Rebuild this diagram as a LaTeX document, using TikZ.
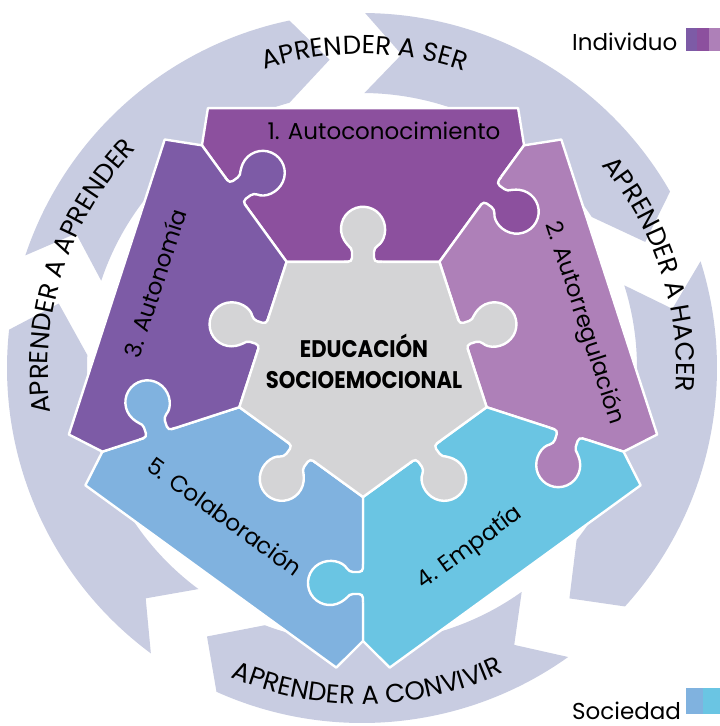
\documentclass[tikz,border=0pt]{standalone}
\usepackage{fontspec}
\usetikzlibrary{calc,decorations.text}
\newfontfamily\pop{Poppins}
\newcommand{\ringfont}{\pop\fontsize{26}{26}\selectfont}
\definecolor{ringc}{HTML}{C8CCE1}
\definecolor{pA}{HTML}{8C509E}
\definecolor{pB}{HTML}{AE80B8}
\definecolor{pC}{HTML}{7D5BA6}
\definecolor{pD}{HTML}{6AC5E3}
\definecolor{pE}{HTML}{80B2DF}
\definecolor{greyc}{HTML}{D4D4D6}
\tikzset{
  piece/.style={draw=white, line width=2.4pt, line join=round},
  lbl/.style={font=\pop\fontsize{23}{23}\selectfont, text=black, inner sep=0pt},
  ctr/.style={font=\pop\bfseries\fontsize{24}{24}\selectfont, text=black, inner sep=0pt},
  ringtext/.style={decorate, decoration={text along path, text align=center, text={|\ringfont|#1}}},
}
\newcommand{\pzknob}[3]{%
  \pgfmathsetmacro{\kpa}{#2+150}%
  \pgfmathsetmacro{\kpb}{#2-150}%
  \pgfmathsetmacro{\ku}{#2-90}%
  \coordinate (kM) at (#1);
  \fill[#3, rounded corners=4pt] ($(kM)+(\ku:-19)+(#2:-4)$) -- ($(kM)+(\ku:-19)$) -- ($(kM)+(\ku:-11)$) -- ($(kM)+(\ku:-11)+(#2:14)$)
     arc[start angle=\kpa, end angle=\kpb, radius=22] -- ($(kM)+(\ku:11)$) -- ($(kM)+(\ku:19)$) -- ($(kM)+(\ku:19)+(#2:-4)$) -- cycle;
  \draw[white, line width=2.4pt, rounded corners=4pt] ($(kM)+(\ku:-19)$) -- ($(kM)+(\ku:-11)$) -- ($(kM)+(\ku:-11)+(#2:14)$)
     arc[start angle=\kpa, end angle=\kpb, radius=22] -- ($(kM)+(\ku:11)$) -- ($(kM)+(\ku:19)$);
}
\begin{document}
\begin{tikzpicture}[x=1pt,y=-1pt]
\useasboundingbox (0,0) rectangle (720,726);
\fill[white] (0,0) rectangle (720,726);
% ring of arrows
\coordinate (C) at (362,368);
\foreach \k in {0,...,4}{
  \pgfmathsetmacro{\ta}{-89.5+72*\k}
  \pgfmathsetmacro{\om}{\ta+59.7}
  \pgfmathsetmacro{\tp}{\om+5.8}
  \pgfmathsetmacro{\ic}{\om-3.5}
  \pgfmathsetmacro{\nt}{\ta+6.7}
  \fill[ringc] ($(C)+(\ta:355)$) arc[start angle=\ta, end angle=\om, radius=355]
     -- ($(C)+(\tp:310)$) -- ($(C)+(\ic:275)$)
     arc[start angle=\ic, end angle=\ta, radius=275]
     -- ($(C)+(\nt:316)$) -- cycle;
}
% ring labels
\path[ringtext={APRENDER A SER}] ($(C)+(-129.5:314)$) arc[start angle=-129.5, end angle=-49.5, radius=314];
\path[ringtext={APRENDER A HACER}] ($(C)+(-58:314)$) arc[start angle=-58, end angle=22, radius=314];
\path[ringtext={APRENDER A APRENDER}] ($(C)+(-207:314)$) arc[start angle=-207, end angle=-117, radius=314];
\path[ringtext={APRENDER A CONVIVIR}] ($(C)+(139:336)$) arc[start angle=139, end angle=39, radius=336];
% puzzle geometry
\coordinate (G) at (363,367);
\foreach \i/\a in {1/-126,2/-54,3/18,4/90,5/162}{
  \coordinate (V\i) at ($(G)+(\a:130)$);
  \coordinate (D\i) at ($(G)+(\a:274)$);
  \coordinate (W\i) at ($(G)+(\a:320)$);
}
\path[piece, fill=pA] (V1) -- (D1) -- ($(W1)!33pt!(W2)$) -- ($(W2)!33pt!(W1)$) -- (D2) -- (V2) -- cycle;
\path[piece, fill=pB] (V2) -- (D2) -- ($(W2)!33pt!(W3)$) -- ($(W3)!33pt!(W2)$) -- (D3) -- (V3) -- cycle;
\path[piece, fill=pD] (V3) -- (D3) -- ($(W3)!33pt!(W4)$) -- ($(W4)!33pt!(W3)$) -- (D4) -- (V4) -- cycle;
\path[piece, fill=pE] (V4) -- (D4) -- ($(W4)!33pt!(W5)$) -- ($(W5)!33pt!(W4)$) -- (D5) -- (V5) -- cycle;
\path[piece, fill=pC] (V5) -- (D5) -- ($(W5)!33pt!(W1)$) -- ($(W1)!33pt!(W5)$) -- (D1) -- (V1) -- cycle;
\path[piece, fill=greyc] (V1) -- (V2) -- (V3) -- (V4) -- (V5) -- cycle;
% knobs
\pzknob{$(G)+(-126:216)$}{-36}{pC}
\pzknob{$(G)+(-54:216)$}{36}{pA}
\pzknob{$(G)+(18:216)$}{108}{pB}
\pzknob{$(G)+(90:216)$}{180}{pD}
\pzknob{$(G)+(162:216)$}{252}{pE}
\pzknob{$(G)+(-90:105.17)$}{-90}{greyc}
\pzknob{$(G)+(-18:105.17)$}{-18}{greyc}
\pzknob{$(G)+(54:105.17)$}{54}{greyc}
\pzknob{$(G)+(126:105.17)$}{126}{greyc}
\pzknob{$(G)+(198:105.17)$}{198}{greyc}
% piece labels
\node[lbl] (t1) at (384,131) {1. Autoconocimiento};
\node[lbl, rotate=-72] (t2) at (584,323) {2. Autorregulación};
\node[lbl, rotate=72] (t3) at (155,283) {3. Autonomía};
\node[lbl, rotate=36] (t4) at (470,548) {4. Empatía};
\node[lbl, rotate=-36] (t5) at (225,516) {5. Colaboración};
\node[ctr, anchor=base] (e1) at (364,357) {\scalebox{0.88}[1]{EDUCACIÓN}};
\node[ctr, anchor=base] (e2) at (364,388) {\scalebox{0.88}[1]{SOCIOEMOCIONAL}};
% legend
\node[lbl, anchor=base west] (ind) at (572,50) {Individuo};
\fill[pC] (686,28) rectangle (697,51);
\fill[pA] (697,28) rectangle (708.5,51);
\fill[pB] (708.5,28) rectangle (720,51);
\node[lbl, anchor=base west] (soc) at (572,719) {Sociedad};
\fill[pE] (686,688) rectangle (703,714);
\fill[pD] (703,688) rectangle (720,714);
\end{tikzpicture}
\end{document}
